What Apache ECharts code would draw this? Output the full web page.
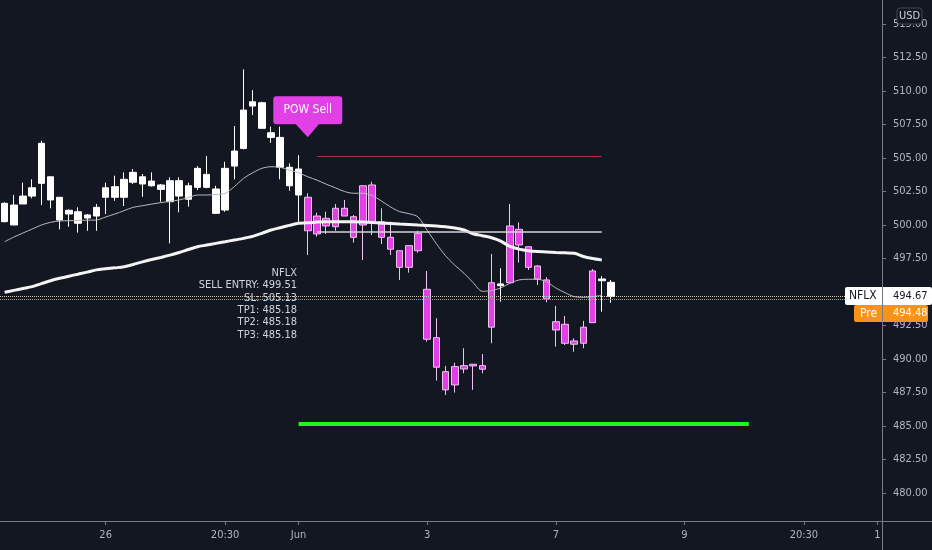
<!DOCTYPE html>
<html>
<head>
<meta charset="utf-8">
<title>NFLX</title>
<script src="https://cdn.jsdelivr.net/npm/echarts@6/dist/echarts.min.js"></script>
<style>
  html, body { margin: 0; padding: 0; background: #131722; }
  #chart { width: 932px; height: 550px; }
</style>
</head>
<body>
<div id="chart"></div>
<script>
// bars, index = bar number from the left edge
const open = [
  500.25, 501.49, 501.57, 502.16, 503.11, 503.60, 502.07, 501.10, 500.99, 500.52,
  500.67, 502.07, 502.07, 502.07, 503.19, 503.60, 503.28, 502.99, 501.74, 503.31,
  502.93, 502.81, 503.78, 502.69, 501.12, 504.40, 505.72, 508.88, 509.13, 506.89,
  506.54, 504.31, 504.18, 502.07, 500.67, 499.93, 499.87, 500.67, 500.62, 500.00,
  502.99, 500.25, 499.08, 498.08, 496.84, 498.08, 495.20, 491.59, 489.05, 488.06,
  489.50, 489.48, 489.50, 492.37, 495.60, 495.69, 499.68, 498.38, 496.94, 495.90,
  492.78, 492.59, 491.34, 491.17, 492.71, 495.97, 495.72
];
const close = [
  501.62, 500.00, 502.16, 502.78, 506.10, 501.87, 500.37, 500.82, 500.13, 500.75,
  501.32, 502.78, 502.86, 503.41, 503.93, 503.06, 502.93, 502.66, 503.31, 502.16,
  501.92, 504.23, 502.81, 500.87, 504.23, 505.52, 508.58, 509.20, 507.22, 506.54,
  504.31, 502.93, 502.24, 499.57, 499.33, 500.50, 501.25, 501.25, 499.08, 502.93,
  500.25, 499.08, 498.19, 496.84, 498.46, 499.38, 491.47, 489.38, 487.69, 489.43,
  489.25, 489.60, 489.23, 495.69, 495.47, 499.93, 498.51, 496.84, 495.95, 494.48,
  492.16, 491.17, 491.10, 492.37, 496.57, 495.84, 494.67
];
const low = [
  500.20, 500.00, 501.57, 501.99, 501.49, 501.25, 499.68, 499.87, 499.43, 499.57,
  499.57, 500.82, 501.81, 501.42, 503.06, 502.11, 502.86, 501.74, 498.63, 500.95,
  501.37, 502.61, 502.74, 500.82, 500.99, 503.41, 505.65, 508.21, 507.22, 506.14,
  503.41, 502.56, 500.15, 497.76, 499.13, 499.33, 499.57, 500.67, 498.68, 497.39,
  499.25, 498.58, 497.76, 495.90, 496.44, 497.93, 491.29, 488.38, 487.31, 487.49,
  488.93, 487.69, 488.93, 491.17, 494.28, 495.69, 497.19, 496.64, 495.52, 494.23,
  490.92, 491.04, 490.54, 490.80, 492.71, 493.53, 494.20
];
const high = [
  501.70, 502.24, 503.16, 503.41, 506.29, 503.60, 502.07, 501.17, 501.32, 500.82,
  501.57, 503.16, 503.68, 503.93, 504.18, 503.81, 503.93, 503.06, 503.56, 503.56,
  503.16, 504.40, 505.15, 502.93, 504.72, 507.39, 511.62, 510.07, 509.20, 507.34,
  507.34, 504.60, 505.22, 502.37, 500.92, 500.99, 501.57, 501.87, 500.75, 502.93,
  503.23, 501.25, 500.25, 498.08, 498.46, 499.57, 496.57, 493.04, 489.48, 489.72,
  490.80, 489.63, 490.37, 497.84, 496.77, 501.57, 500.20, 498.38, 497.01, 496.10,
  493.96, 493.21, 491.54, 492.84, 496.72, 496.19, 495.90
];
// 0 = white bar, 1 = sell-signal bar
const signal = [
  0, 0, 0, 0, 0, 0, 0, 0, 0, 0, 0, 0, 0, 0, 0, 0, 0, 0, 0, 0,
  0, 0, 0, 0, 0, 0, 0, 0, 0, 0, 0, 0, 0, 1, 1, 1, 1, 1, 1, 1,
  1, 1, 1, 1, 1, 1, 1, 1, 1, 1, 1, 1, 1, 1, 0, 1, 1, 1, 1, 1,
  1, 1, 1, 1, 1, 0, 0
];

// thin and thick moving averages
const maFast = [
  498.75, 499.10, 499.40, 499.70, 500.00, 500.20, 500.30, 500.32, 500.34, 500.36,
  500.37, 500.60, 500.82, 501.07, 501.32, 501.44, 501.56, 501.67, 501.77, 501.87,
  502.05, 502.24, 502.24, 502.28, 502.36, 502.86, 503.48, 503.90, 504.23, 504.35,
  504.31, 504.10, 503.90, 503.60, 503.35, 503.05, 502.78, 502.50, 502.37, 502.37,
  502.20, 501.80, 501.35, 501.00, 500.85, 500.60, 499.60, 498.60, 497.70, 497.00,
  496.40, 495.70, 495.05, 495.10, 495.30, 495.65, 495.90, 495.95, 495.95, 495.75,
  495.30, 494.95, 494.65, 494.60, 494.65, 494.75
];
const maSlow = [
  494.98, 495.12, 495.26, 495.40, 495.62, 495.84, 496.02, 496.18, 496.33, 496.48,
  496.65, 496.73, 496.80, 496.88, 497.05, 497.25, 497.42, 497.58, 497.75, 497.95,
  498.17, 498.38, 498.50, 498.63, 498.75, 498.88, 499.00, 499.15, 499.38, 499.63,
  499.80, 499.97, 500.13, 500.16, 500.22, 500.25, 500.25, 500.25, 500.25, 500.22,
  500.18, 500.14, 500.11, 500.07, 500.04, 500.00, 499.97, 499.93, 499.87, 499.78,
  499.63, 499.35, 499.20, 499.05, 498.80, 498.40, 498.20, 498.08, 498.02, 497.99,
  497.95, 497.92, 497.89, 497.65, 497.50, 497.39
];

// time axis: total bar slots and the few labelled ones
const slotCount = 96;
const timeTicks = [[11, '26'], [24, '20:30'], [32, 'Jun'], [46, '3'], [60, '7'], [74, '9'], [87, '20:30'], [95, '1']];
const priceTicks = [480, 482.5, 485, 487.5, 490, 492.5, 495, 497.5, 500, 502.5, 505, 507.5, 510, 512.5, 515];

// trade levels
const lastPrice = 494.67;
const prePrice = 494.48;
const entry = 499.51;
const stopLoss = 505.13;
const takeProfit = [485.18, 485.18, 485.18];
const levelStart = 34, levelEnd = 65;
const tpStart = 32, tpEnd = 81;
const signalBar = 33, signalPrice = 506.55;

const FONT = "'DejaVu Sans Condensed', 'Liberation Sans', sans-serif";
const WHITE = '#ffffff';
const PINK = '#e23fe6';

const categories = new Array(slotCount).fill('');
timeTicks.forEach(t => { categories[t[0]] = t[1]; });

const candles = open.map((o, i) => {
  const c = signal[i] ? PINK : WHITE;
  const b = signal[i] ? '#efc2f0' : WHITE;
  return {
    value: [o, close[i], low[i], high[i]],
    itemStyle: { color: c, color0: c, borderColor: b, borderColor0: b, borderWidth: 1 }
  };
});

const showLabel = (i, v) => v !== '';

var myChart = echarts.init(document.getElementById('chart'));
var option = {
  backgroundColor: '#131722',
  animation: false,
  grid: { left: 0, right: 50, top: 0, bottom: 29 },
  xAxis: {
    type: 'category',
    data: categories,
    boundaryGap: true,
    axisLine: { show: true, lineStyle: { color: '#787b86' } },
    axisTick: { show: true, alignWithLabel: true, length: 4, interval: showLabel, lineStyle: { color: '#787b86' } },
    axisLabel: { color: '#b2b5be', fontSize: 11, fontFamily: FONT, margin: 9, interval: showLabel },
    splitLine: { show: false }
  },
  yAxis: {
    type: 'value',
    position: 'right',
    min: 477.9,
    max: 516.8,
    axisLine: { show: true, lineStyle: { color: '#787b86' } },
    axisTick: { show: true, length: 4, customValues: priceTicks, lineStyle: { color: '#787b86' } },
    axisLabel: {
      color: '#b2b5be', fontSize: 11, fontFamily: FONT, margin: 11,
      customValues: priceTicks,
      formatter: v => v.toFixed(2)
    },
    splitLine: { show: false }
  },
  series: [
    {
      type: 'candlestick',
      data: candles,
      barWidth: 7,
      z: 3,
      markLine: {
        silent: true,
        symbol: ['none', 'none'],
        label: { show: false },
        data: [
          [{ coord: [tpStart, takeProfit[0]], lineStyle: { color: '#1ef51e', width: 4, type: 'solid' } }, { coord: [tpEnd, takeProfit[0]] }],
          [{ coord: [levelStart, stopLoss], lineStyle: { color: '#a8333b', width: 1.2, type: 'solid' } }, { coord: [levelEnd, stopLoss] }],
          [{ coord: [levelStart, entry], lineStyle: { color: '#d4d4d8', width: 1.5, type: 'solid' } }, { coord: [levelEnd, entry] }],
          { yAxis: lastPrice, lineStyle: { color: '#c9c9cc', width: 1, type: 'dotted' } },
          { yAxis: prePrice, lineStyle: { color: '#e08a32', width: 1, type: 'dotted' } }
        ]
      },
      markPoint: {
        silent: true,
        symbol: 'path://M3,0 H66 Q69,0 69,3 V25 Q69,28 66,28 H45.5 L34.5,41 L22.5,28 H3 Q0,28 0,25 V3 Q0,0 3,0 Z',
        symbolSize: [69, 41],
        symbolOffset: [0, '-50%'],
        itemStyle: { color: PINK },
        label: { show: true, color: '#ffffff', fontSize: 12, fontFamily: FONT, offset: [0, -6.5] },
        data: [{ coord: [signalBar, signalPrice], value: 'POW Sell' }]
      }
    },
    {
      type: 'line',
      data: maFast,
      showSymbol: false,
      smooth: 0.3,
      z: 4,
      lineStyle: { color: '#b9b9bf', width: 1 }
    },
    {
      type: 'line',
      data: maSlow,
      showSymbol: false,
      smooth: 0.3,
      z: 4,
      lineStyle: { color: '#f4f4f4', width: 3 }
    }
  ]
};
myChart.setOption(option);

// price tags on the right axis and the signal text, placed from the axis scale
const yLast = myChart.convertToPixel({ yAxisIndex: 0 }, lastPrice);
const infoText = [
  'NFLX',
  'SELL ENTRY: ' + entry.toFixed(2),
  'SL: ' + stopLoss.toFixed(2),
  'TP1: ' + takeProfit[0].toFixed(2),
  'TP2: ' + takeProfit[1].toFixed(2),
  'TP3: ' + takeProfit[2].toFixed(2)
].join('\n');

myChart.setOption({
  graphic: [
    { type: 'line', z: 100, shape: { x1: 882, y1: 521.5, x2: 932, y2: 521.5 }, style: { stroke: '#787b86', lineWidth: 1 } },
    { type: 'line', z: 100, shape: { x1: 882.5, y1: 521, x2: 882.5, y2: 550 }, style: { stroke: '#787b86', lineWidth: 1 } },
    {
      type: 'text', z: 100, x: 297, y: 267,
      style: { text: infoText, fill: '#d1d4dc', font: '11px ' + FONT, align: 'right', verticalAlign: 'top', lineHeight: 12.3 }
    },
    { type: 'rect', z: 100, shape: { x: 845, y: Math.round(yLast) - 9, width: 87, height: 18, r: 2 }, style: { fill: '#ffffff' } },
    { type: 'text', z: 101, x: 849, y: Math.round(yLast), style: { text: 'NFLX', fill: '#131722', font: '12px ' + FONT, verticalAlign: 'middle' } },
    { type: 'text', z: 101, x: 893, y: Math.round(yLast), style: { text: lastPrice.toFixed(2), fill: '#131722', font: '11px ' + FONT, verticalAlign: 'middle' } },
    { type: 'rect', z: 100, shape: { x: 854, y: Math.round(yLast) + 9, width: 74, height: 17, r: 2 }, style: { fill: '#f7931a' } },
    { type: 'text', z: 101, x: 860, y: Math.round(yLast) + 17.5, style: { text: 'Pre', fill: '#ffffff', font: '12px ' + FONT, verticalAlign: 'middle' } },
    { type: 'text', z: 101, x: 893, y: Math.round(yLast) + 17.5, style: { text: prePrice.toFixed(2), fill: '#ffffff', font: '11px ' + FONT, verticalAlign: 'middle' } },
    { type: 'line', z: 102, shape: { x1: 882.5, y1: Math.round(yLast) - 9, x2: 882.5, y2: Math.round(yLast) + 26 }, style: { stroke: '#787b86', lineWidth: 1 } },
    { type: 'rect', z: 100, shape: { x: 897, y: 8, width: 25, height: 16, r: 3 }, style: { fill: '#131722', stroke: '#434651', lineWidth: 1 } },
    { type: 'text', z: 101, x: 909.5, y: 16, style: { text: 'USD', fill: '#d1d4dc', font: '11px ' + FONT, align: 'center', verticalAlign: 'middle' } }
  ]
});
</script>
</body>
</html>
